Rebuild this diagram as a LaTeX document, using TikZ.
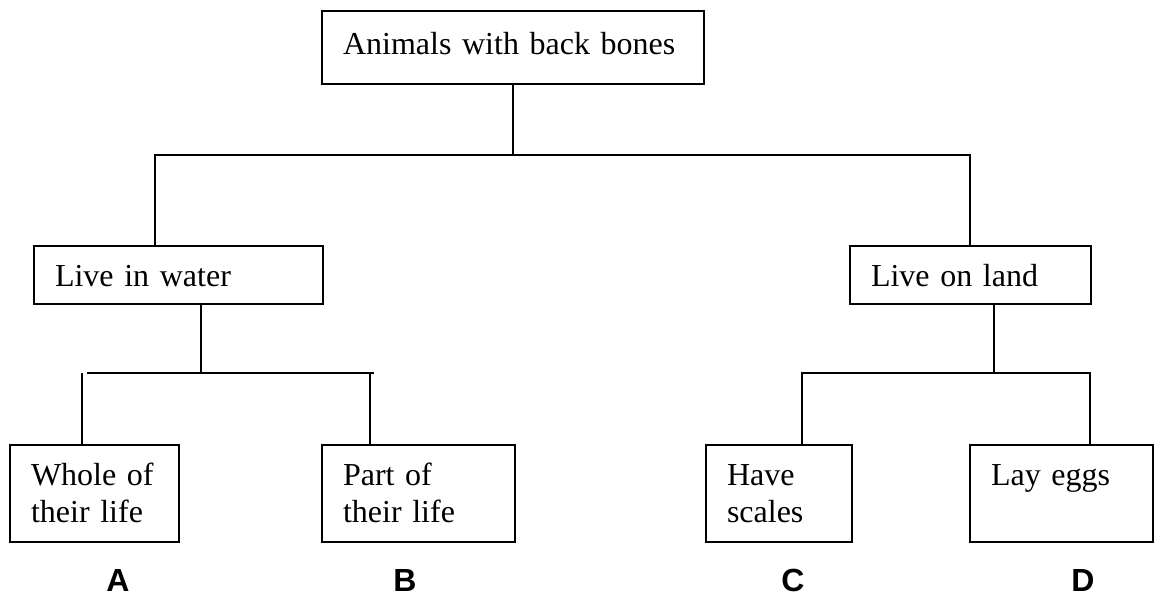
\documentclass[tikz,border=0pt]{standalone}
\usepackage{fontspec}
\setmainfont{Liberation Serif}
\newfontfamily\letterfont{Liberation Sans}

\begin{document}
\begin{tikzpicture}[x=0.5pt, y=-0.5pt, line width=1pt]
		\tikzstyle{box}=[
		draw,
		rectangle,
		anchor=north west,
		align=left,
		inner xsep=10.5pt,
		inner ysep=0pt,
		text height=20pt,
		font=\fontsize{16}{18.5}\selectfont]
		\tikzstyle{letter}=[
		anchor=base,
		inner sep=0pt,
		font=\letterfont\bfseries\fontsize{16}{18}\selectfont]
		\useasboundingbox (0,0) rectangle (1159,596);
		\node[box, text width=170pt, text height=21.5pt, text depth=15pt] (Top) at (321,10) {Animals with back bones};
		\node[box, text width=123.5pt, text depth=9pt] (Water) at (33,245) {Live in water};
		\node[box, text width=99.5pt, text depth=9pt] (Land) at (849,245) {Live on land};
		\node[box, text width=63.5pt, text depth=28.5pt] (Whole) at (9,444) {Whole of\\their life};
		\node[box, text width=75.5pt, text depth=28.5pt] (Part) at (321,444) {Part of\\their life};
		\node[box, text width=52pt, text depth=28.5pt] (Scales) at (705,444) {Have\\scales};
		\node[box, text width=70.5pt, text depth=28.5pt] (Eggs) at (969,444) {Lay eggs};
		%
		\node[letter] (LA) at (118,591) {A};
		\node[letter] (LB) at (405,591) {B};
		\node[letter] (LC) at (793,591) {C};
		\node[letter] (LD) at (1083,591) {D};
		%
		\coordinate (busL) at (155,155);
		\coordinate (busR) at (970,155);
		\draw (Top.south) -- (Top.south |- busL);
		\draw (Water.north -| busL) -- (busL) -- (busR) -- (Land.north -| busR);
		%
		\coordinate (wJ) at (201,373);
		\coordinate (wL) at (87,373);
		\coordinate (wR) at (374,373);
		\coordinate (wA) at (82,373);
		\coordinate (wB) at (370,373);
		\draw (Water.south -| wJ) -- (wJ);
		\draw (wL) -- (wR);
		\draw (wA) -- (Whole.north -| wA);
		\draw (wB) -- (Part.north -| wB);
		%
		\coordinate (lJ) at (994,373);
		\coordinate (lC) at (802,373);
		\coordinate (lD) at (1090,373);
		\draw (Land.south -| lJ) -- (lJ);
		\draw (Scales.north -| lC) -- (lC) -- (lD) -- (Eggs.north -| lD);
	\end{tikzpicture}
\end{document}
